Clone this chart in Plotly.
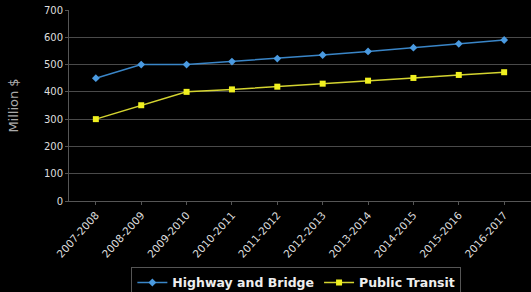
import plotly.graph_objects as go

years = ["2007-2008", "2008-2009", "2009-2010", "2010-2011", "2011-2012",
         "2012-2013", "2013-2014", "2014-2015", "2015-2016", "2016-2017"]
highway = [450, 500, 500, 511, 522, 535, 548, 562, 576, 590]
transit = [300, 351, 400, 409, 419, 430, 441, 451, 462, 472]

fig = go.Figure()
fig.add_trace(go.Scatter(x=years, y=highway, mode="lines+markers", name="Highway and Bridge",
                         line=dict(color="#3a86c8", width=1.5),
                         marker=dict(symbol="diamond", size=6, color="#4a9ae0")))
fig.add_trace(go.Scatter(x=years, y=transit, mode="lines+markers", name="Public Transit",
                         line=dict(color="#d4d430", width=1.5),
                         marker=dict(symbol="square", size=6, color="#f0f020")))

fig.update_layout(
    width=531, height=292,
    paper_bgcolor="black", plot_bgcolor="black",
    margin=dict(l=69, r=0, t=10, b=91, autoexpand=False),
    font=dict(family="DejaVu Sans", color="#dddddd", size=9),
    showlegend=True,
    legend=dict(orientation="h", x=0.135, y=-0.345, xanchor="left", yanchor="top",
                bgcolor="black", bordercolor="#555555", borderwidth=1,
                font=dict(size=12.5, color="#eeeeee", family="DejaVu Sans", weight="bold"),
                itemwidth=30, tracegroupgap=0),
    xaxis=dict(type="category", tickangle=-48, showgrid=False, showline=True, automargin=False,
               linecolor="#555555", ticks="outside", ticklen=3, tickcolor="#555555",
               tickfont=dict(size=10.5, color="#dddddd")),
    yaxis=dict(range=[0, 700], dtick=100, showgrid=True, gridcolor="#4a4a4a", gridwidth=1,
               showline=True, linecolor="#555555", zeroline=False, automargin=False,
               ticks="outside", ticklen=3, tickcolor="#555555",
               tickfont=dict(size=10, color="#dddddd"),
               title=dict(text="Million $", font=dict(size=13, color="#aaaaaa"), standoff=22)),
)

fig.write_html("out.html", config={"displayModeBar": False},
               post_script="document.body.style.margin='0';document.body.style.overflow='hidden';document.body.style.background='black';")
